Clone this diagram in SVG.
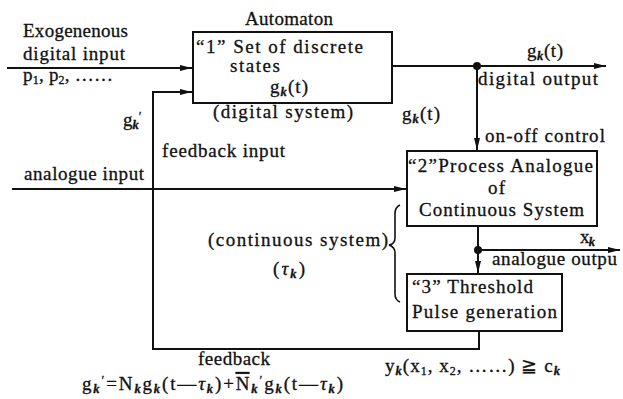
<svg xmlns="http://www.w3.org/2000/svg" width="623" height="399" viewBox="0 0 623 399">
<style>
text{font-family:"Liberation Serif","Times New Roman",serif;font-size:19px;fill:#111;stroke:#111;stroke-width:0.3}
.sub{font-size:12.5px;font-style:italic;font-weight:bold}
.num{font-size:12px}
.pr{font-size:13px}
.ov{text-decoration:overline}
.box{fill:#fff;stroke:#111;stroke-width:2}
.ln{fill:none;stroke:#111;stroke-width:2}
</style>
<defs>
<marker id="ah" markerUnits="userSpaceOnUse" markerWidth="12" markerHeight="8" refX="12" refY="4" orient="auto">
<path d="M0,1 L12,4 L0,7 z" fill="#111"/>
</marker>
</defs>
<rect width="623" height="399" fill="#fff"/>
<g id="connectors">
<path class="ln" d="M7,68 H192" marker-end="url(#ah)"/>
<path class="ln" d="M479,331 V349 H153 V92 H192" marker-end="url(#ah)"/>
<path class="ln" d="M12,189 H406" marker-end="url(#ah)"/>
<path class="ln" d="M392,66 H606" marker-end="url(#ah)"/>
<path class="ln" d="M477,66 V150" marker-end="url(#ah)"/>
<path class="ln" d="M478,226 V273" marker-end="url(#ah)"/>
<path class="ln" d="M478,250 H620" marker-end="url(#ah)"/>
<circle cx="477" cy="66" r="4" fill="#111"/>
<circle cx="478" cy="250" r="4" fill="#111"/>
<path d="M400,205 Q395,207 395,214 V238 Q395,244 389,245 Q395,247 395,253 V294 Q395,300 400,302" fill="none" stroke="#111" stroke-width="1.6"/>
</g>
<g id="node1">
<rect class="box" x="193" y="32" width="199" height="71"/>
<text x="245" y="25" textLength="88">Automaton</text>
<text x="196" y="53" textLength="167">“1” Set of discrete</text>
<text x="230" y="72" textLength="50">states</text>
<text x="270" y="93" textLength="38">g<tspan class="sub" dy="3">k</tspan><tspan dy="-3">(t)</tspan></text>
<text x="213" y="118" textLength="140">(digital system)</text>
</g>
<g id="node2">
<rect class="box" x="407" y="151" width="190" height="75"/>
<text x="408" y="172" textLength="185">“2”Process Analogue</text>
<text x="488" y="194" textLength="17">of</text>
<text x="419" y="216" textLength="165">Continuous System</text>
</g>
<g id="node3">
<rect class="box" x="407" y="274" width="155" height="57"/>
<text x="412" y="293" textLength="121">“3” Threshold</text>
<text x="412" y="318" textLength="145">Pulse generation</text>
</g>
<g id="labels">
<text x="23" y="37" textLength="105">Exogenenous</text>
<text x="23" y="60" textLength="102">digital input</text>
<text x="23" y="81" textLength="90">p<tspan class="num" dy="3">1</tspan><tspan dy="-3">, p</tspan><tspan class="num" dy="3">2</tspan><tspan dy="-3">, ……</tspan></text>
<text x="123" y="126">g<tspan class="sub" dy="3">k</tspan><tspan class="pr" dy="-9">′</tspan></text>
<text x="527" y="57" textLength="36">g<tspan class="sub" dy="3">k</tspan><tspan dy="-3">(t)</tspan></text>
<text x="478" y="85" textLength="120">digital output</text>
<text x="402" y="120" textLength="38">g<tspan class="sub" dy="3">k</tspan><tspan dy="-3">(t)</tspan></text>
<text x="485" y="142" textLength="120">on-off control</text>
<text x="162" y="157" textLength="123">feedback input</text>
<text x="24" y="180" textLength="120">analogue input</text>
<text x="208" y="246" textLength="180">(continuous system)</text>
<text x="273" y="275" textLength="32">(<tspan font-style="italic">τ</tspan><tspan class="sub" dy="3">k</tspan><tspan dy="-3">)</tspan></text>
<text x="580" y="243" textLength="15">x<tspan class="sub" dy="3">k</tspan></text>
<text x="492" y="265" textLength="125">analogue outpu</text>
<text x="198" y="365" textLength="72">feedback</text>
<text x="385" y="372" textLength="175">y<tspan class="sub" dy="3">k</tspan><tspan dy="-3">(x</tspan><tspan class="num" dy="3">1</tspan><tspan dy="-3">, x</tspan><tspan class="num" dy="3">2</tspan><tspan dy="-3">, ……) ≧ c</tspan><tspan class="sub" dy="3">k</tspan></text>
<text x="82" y="390" textLength="261">g<tspan class="sub" dy="3">k</tspan><tspan class="pr" dy="-9">′</tspan><tspan dy="6">=N</tspan><tspan class="sub" dy="3">k</tspan><tspan dy="-3">g</tspan><tspan class="sub" dy="3">k</tspan><tspan dy="-3">(t—</tspan><tspan font-style="italic">τ</tspan><tspan class="sub" dy="3">k</tspan><tspan dy="-3">)+</tspan><tspan class="ov">N</tspan><tspan class="sub" dy="3">k</tspan><tspan class="pr" dy="-9">′</tspan><tspan dy="6">g</tspan><tspan class="sub" dy="3">k</tspan><tspan dy="-3">(t—</tspan><tspan font-style="italic">τ</tspan><tspan class="sub" dy="3">k</tspan><tspan dy="-3">)</tspan></text>
</g>
</svg>
